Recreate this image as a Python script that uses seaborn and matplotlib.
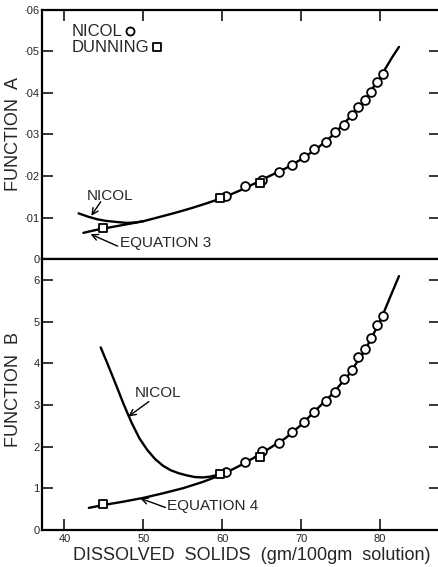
import matplotlib
matplotlib.use("Agg")
import matplotlib.pyplot as plt
import seaborn as sns
import pandas as pd

# ---------------- data ----------------
solids_circles = [60.5, 62.9, 65.1, 67.2, 68.9, 70.4, 71.6, 73.1, 74.3, 75.4,
                  76.4, 77.2, 78.1, 78.8, 79.6, 80.4]
funcA_nicol = [0.0152, 0.0176, 0.0190, 0.0210, 0.0227, 0.0246, 0.0265, 0.0282,
               0.0306, 0.0323, 0.0347, 0.0366, 0.0383, 0.0402, 0.0427, 0.0446]
funcB_nicol = [1.40, 1.64, 1.89, 2.08, 2.34, 2.60, 2.84, 3.09, 3.32, 3.61,
               3.84, 4.14, 4.33, 4.61, 4.92, 5.13]

solids_squares = [44.9, 59.7, 64.8]
funcA_dunning = [0.0075, 0.0146, 0.0183]
funcB_dunning = [0.62, 1.35, 1.74]

eq3_x = [42.4, 44.0, 46.0, 48.0, 50.0, 52.0, 54.0, 56.0, 58.0, 60.0, 62.0,
         64.0, 66.0, 68.0, 70.0, 72.0, 74.0, 76.0, 78.0, 80.0, 81.5, 82.4]
eq3_y = [0.0063, 0.0070, 0.0077, 0.0084, 0.0091, 0.0101, 0.0111, 0.0122,
         0.0134, 0.0147, 0.0163, 0.0181, 0.0200, 0.0218, 0.0240, 0.0266,
         0.0298, 0.0338, 0.0382, 0.0437, 0.0485, 0.0511]

nicolA_x = [41.8, 43.0, 44.1, 45.2, 46.2, 47.9, 49.0, 50.0]
nicolA_y = [0.0110, 0.0102, 0.0096, 0.0092, 0.0090, 0.0087, 0.0088, 0.0091]

eq4_x = [43.1, 45.0, 47.5, 50.0, 52.5, 55.0, 57.5, 60.0, 62.0, 64.0, 66.0,
         68.0, 70.0, 72.0, 74.0, 76.0, 78.0, 80.0, 81.2, 82.4]
eq4_y = [0.53, 0.60, 0.68, 0.77, 0.88, 1.00, 1.15, 1.33, 1.52, 1.73, 1.96,
         2.20, 2.52, 2.90, 3.27, 3.72, 4.28, 5.00, 5.55, 6.09]

nicolB_x = [44.6, 45.5, 46.5, 47.5, 48.5, 49.5, 50.5, 51.5, 52.5, 53.5,
            54.5, 55.5, 56.5, 57.5, 58.5, 59.5]
nicolB_y = [4.38, 3.97, 3.50, 3.02, 2.58, 2.20, 1.92, 1.70, 1.54, 1.43,
            1.36, 1.31, 1.27, 1.26, 1.28, 1.33]

x_ticks = [40, 50, 60, 70, 80]
yA_ticks = [0, 0.01, 0.02, 0.03, 0.04, 0.05, 0.06]
yA_labels = ["0", "·01", "·02", "·03", "·04", "·05", "·06"]
yB_ticks = [0, 1, 2, 3, 4, 5, 6]
yB_labels = ["0", "1", "2", "3", "4", "5", "6"]

# ---------------- style ----------------
sns.set_style("ticks")
plt.rcParams["font.family"] = ["Liberation Sans", "DejaVu Sans"]

fig = plt.figure(figsize=(4.38, 5.67), dpi=100)
axA = fig.add_axes([0.0966, 0.5432, 0.908, 0.4392])
axB = fig.add_axes([0.0966, 0.0653, 0.908, 0.4779])

LW = 1.7
MS = 6.3

def curve(ax, xs, ys):
    sns.lineplot(x=xs, y=ys, ax=ax, color="black", lw=LW, sort=False,
                 estimator=None, legend=False)

def marks(ax, xs, ys, marker, ms=MS):
    sns.scatterplot(x=xs, y=ys, ax=ax, marker=marker, s=ms ** 2,
                    facecolor="white", edgecolor="black", linewidth=1.3,
                    legend=False, zorder=5)

arrow = dict(arrowstyle="->,head_length=0.45,head_width=0.22", lw=1.0,
             color="black", shrinkA=0, shrinkB=0)

# ---- Function A ----
curve(axA, eq3_x, eq3_y)
curve(axA, nicolA_x, nicolA_y)
marks(axA, solids_circles, funcA_nicol, "o")
marks(axA, solids_squares, funcA_dunning, "s")

axA.text(40.9, 0.0549, "NICOL", fontsize=12, va="center", ha="left")
axA.text(40.9, 0.0510, "DUNNING", fontsize=12, va="center", ha="left")
marks(axA, [48.3], [0.0549], "o", 5.8)
marks(axA, [51.7], [0.0510], "s", 5.8)

axA.text(45.8, 0.0152, "NICOL", fontsize=11, ha="center", va="center")
axA.annotate("", xy=(43.4, 0.0104), xytext=(44.6, 0.0138), arrowprops=arrow)
axA.text(47.0, 0.0038, "EQUATION 3", fontsize=11, ha="left", va="center")
axA.annotate("", xy=(43.3, 0.0060), xytext=(46.75, 0.0031), arrowprops=arrow)

axA.set_xlim(37.2, 87.6)
axA.set_ylim(0, 0.06)
axA.set_xticks(x_ticks)
axA.set_yticks(yA_ticks)
axA.set_yticklabels(yA_labels)
axA.tick_params(axis="x", direction="in", length=8, width=1.3,
                top=True, bottom=False, labeltop=False, labelbottom=False)
axA.tick_params(axis="y", direction="in", length=8, width=1.3,
                left=True, right=True, labelsize=8, pad=2)
axA.set_ylabel("FUNCTION  A", fontsize=13, va="center")
axA.yaxis.set_label_coords(-0.073, 0.5)

# ---- Function B ----
curve(axB, eq4_x, eq4_y)
curve(axB, nicolB_x, nicolB_y)
marks(axB, solids_circles, funcB_nicol, "o")
marks(axB, solids_squares, funcB_dunning, "s")

axB.text(51.9, 3.29, "NICOL", fontsize=11, ha="center", va="center")
axB.annotate("", xy=(48.1, 2.72), xytext=(50.7, 3.08), arrowprops=arrow)
axB.text(53.0, 0.576, "EQUATION 4", fontsize=11, ha="left", va="center")
axB.annotate("", xy=(49.6, 0.76), xytext=(52.8, 0.54), arrowprops=arrow)

axB.set_xlim(37.2, 87.6)
axB.set_ylim(0, 6.5)
axB.set_xticks(x_ticks)
axB.set_xticklabels([str(t) for t in x_ticks])
axB.set_yticks(yB_ticks)
axB.set_yticklabels(yB_labels)
axB.tick_params(axis="x", direction="in", length=8, width=1.3,
                top=False, bottom=True, labelsize=8, pad=3)
axB.tick_params(axis="y", direction="in", length=8, width=1.3,
                left=True, right=True, labelsize=8, pad=2)
axB.set_ylabel("FUNCTION  B", fontsize=13, va="center")
axB.yaxis.set_label_coords(-0.073, 0.52)
axB.set_xlabel("")

for ax in (axA, axB):
    for s in ax.spines.values():
        s.set_linewidth(1.6)
        s.set_color("black")

fig.text(252 / 438, 1 - 555 / 567, "DISSOLVED  SOLIDS  (gm/100gm  solution)",
         fontsize=13, ha="center", va="center")

fig.savefig("out.png", dpi=100)
